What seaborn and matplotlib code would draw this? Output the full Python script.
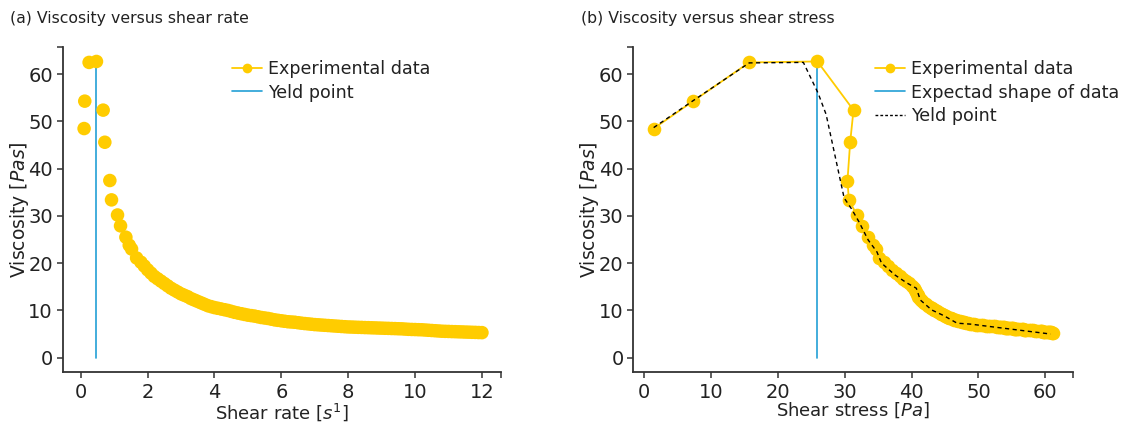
import matplotlib
matplotlib.use("Agg")
import matplotlib.pyplot as plt
from matplotlib.lines import Line2D
import seaborn as sns
import pandas as pd

# ---------------- data ----------------
# shear rate [1/s] of each measurement
shear_rate = [0.10, 0.12, 0.25, 0.47, 0.67, 0.72, 0.87, 0.92, 1.10, 1.19, 1.35, 1.45, 1.52, 1.67,
              1.8, 1.9, 2.0, 2.1, 2.2, 2.3, 2.4, 2.5, 2.6, 2.7,
              2.8, 2.9, 3.0, 3.1, 3.2, 3.3, 3.4, 3.5, 3.6, 3.7,
              3.8, 3.9, 4.0, 4.1, 4.2, 4.3, 4.4, 4.5, 4.6, 4.7,
              4.8, 4.9, 5.0, 5.1, 5.2, 5.3, 5.4, 5.5, 5.6, 5.7,
              5.8, 5.9, 6.0, 6.1, 6.2, 6.3, 6.4, 6.5, 6.6, 6.7,
              6.8, 6.9, 7.0, 7.1, 7.2, 7.3, 7.4, 7.5, 7.6, 7.7,
              7.8, 7.9, 8.0, 8.1, 8.2, 8.3, 8.4, 8.5, 8.6, 8.7,
              8.8, 8.9, 9.0, 9.1, 9.2, 9.3, 9.4, 9.5, 9.6, 9.7,
              9.8, 9.9, 10.0, 10.1, 10.2, 10.3, 10.4, 10.5, 10.6, 10.7,
              10.8, 10.9, 11.0, 11.1, 11.2, 11.3, 11.4, 11.5, 11.6, 11.7,
              11.8, 11.9, 12.0]
# viscosity [Pa s] of each measurement (shared by both panels)
viscosity = [48.5, 54.3, 62.5, 62.7, 52.4, 45.6, 37.5, 33.4, 30.2, 27.9, 25.5, 23.8, 23.0, 21.1,
             20.2, 19.4, 18.6, 17.9, 17.2, 16.7, 16.2, 15.7, 15.2, 14.7,
             14.3, 13.9, 13.5, 13.2, 12.9, 12.5, 12.2, 11.9, 11.6, 11.3,
             11.0, 10.8, 10.6, 10.45, 10.3, 10.15, 10.0, 9.8, 9.6, 9.45,
             9.3, 9.15, 9.0, 8.9, 8.8, 8.65, 8.5, 8.4, 8.3, 8.15,
             8.0, 7.9, 7.8, 7.7, 7.6, 7.55, 7.5, 7.4, 7.3, 7.22,
             7.15, 7.08, 7.0, 6.95, 6.9, 6.85, 6.8, 6.75, 6.7, 6.65,
             6.6, 6.55, 6.5, 6.48, 6.45, 6.42, 6.4, 6.37, 6.35, 6.32,
             6.3, 6.27, 6.25, 6.22, 6.2, 6.17, 6.15, 6.12, 6.1, 6.05,
             6.0, 5.97, 5.95, 5.92, 5.9, 5.85, 5.8, 5.75, 5.7, 5.65,
             5.6, 5.57, 5.55, 5.52, 5.5, 5.47, 5.45, 5.42, 5.4, 5.37,
             5.35, 5.32, 5.3]
# shear stress [Pa] of each measurement
shear_stress = [1.4, 7.3, 15.7, 25.9, 31.3, 30.8, 30.4, 30.6, 31.8, 32.5, 33.4, 34.2, 34.6, 35.1,
                35.8, 36.4, 37.0, 37.6, 38.3, 38.7, 39.2, 39.6, 40.1, 40.4,
                40.5, 40.7, 40.8, 40.9, 41.0, 41.2, 41.4, 41.6, 41.9, 42.2,
                42.5, 42.7, 42.9, 43.05, 43.2, 43.35, 43.5, 43.75, 44.0, 44.2,
                44.4, 44.6, 44.8, 44.95, 45.1, 45.35, 45.6, 45.75, 45.9, 46.15,
                46.4, 46.65, 46.9, 47.2, 47.5, 47.7, 47.9, 48.2, 48.5, 48.8,
                49.1, 49.4, 49.7, 50.0, 50.4, 50.7, 51.1, 51.4, 51.7, 52.1,
                52.4, 52.7, 53.1, 53.2, 53.4, 53.6, 53.8, 54.0, 54.1, 54.3,
                54.4, 54.6, 54.8, 55.0, 55.1, 55.3, 55.4, 55.6, 55.8, 56.1,
                56.5, 56.7, 56.8, 57.0, 57.1, 57.5, 57.8, 58.1, 58.5, 58.8,
                59.2, 59.4, 59.5, 59.7, 59.8, 60.0, 60.2, 60.4, 60.5, 60.7,
                60.9, 61.0, 61.2]

# expected shape of data (dashed curve in panel b)
expected_stress = [1.4, 7.3, 15.7, 23.8, 26.0, 27.2, 29.9, 31.0, 32.1, 33.5, 34.8, 35.5, 37.5,
                   39.3, 40.7, 41.3, 43.0, 44.8, 46.8, 48.8, 60.8]
expected_visc = [48.7, 54.4, 62.4, 62.5, 56.0, 51.5, 33.8, 31.5, 28.8, 24.9, 22.4, 20.0, 17.5,
                 15.8, 14.7, 12.2, 10.1, 8.9, 7.3, 7.1, 5.0]

# yield point markers (vertical lines)
yield_rate = [0.47, 0.47]
yield_stress = [25.9, 25.9]
yield_visc = [0.0, 62.0]

xticks_a = [0, 2, 4, 6, 8, 10, 12]
xticks_b = [0, 10, 20, 30, 40, 50, 60]
yticks = [0, 10, 20, 30, 40, 50, 60]

df = pd.DataFrame({"rate": shear_rate, "stress": shear_stress, "visc": viscosity})
df_exp = pd.DataFrame({"stress": expected_stress, "visc": expected_visc})
df_ya = pd.DataFrame({"x": yield_rate, "y": yield_visc})
df_yb = pd.DataFrame({"x": yield_stress, "y": yield_visc})

# ---------------- style ----------------
sns.set_style("ticks")
plt.rcParams["font.family"] = ["DejaVu Sans"]
plt.rcParams["mathtext.fontset"] = "dejavusans"

YELLOW = "#FFCC00"
BLUE = "#23A0D6"
AXC = "#333333"
TXT = "#222222"

W, H = 1135, 422
fig = plt.figure(figsize=(W / 100, H / 100), dpi=100)
ax_a = fig.add_axes([62.7 / W, 49.7 / H, 438.3 / W, 325.0 / H])
ax_b = fig.add_axes([633.3 / W, 49.7 / H, 439.4 / W, 325.0 / H])

# panel a
sns.scatterplot(data=df, x="rate", y="visc", ax=ax_a, color=YELLOW, s=95,
                edgecolor="none", legend=False, zorder=3)
sns.lineplot(data=df_ya, x="x", y="y", ax=ax_a, color=BLUE, lw=1.2, sort=False,
             estimator=None, legend=False, zorder=2)

# panel b
sns.lineplot(data=df, x="stress", y="visc", ax=ax_b, color=YELLOW, lw=1.3, sort=False,
             estimator=None, marker="o", markersize=9.8, markeredgewidth=0,
             legend=False, zorder=3)
sns.lineplot(data=df_yb, x="x", y="y", ax=ax_b, color=BLUE, lw=1.2, sort=False,
             estimator=None, legend=False, zorder=2)
sns.lineplot(data=df_exp, x="stress", y="visc", ax=ax_b, color="black", lw=1.0,
             sort=False, estimator=None, legend=False, zorder=4)
ax_b.lines[-1].set_linestyle((0, (3, 2.5)))

for ax, xt, xlim in [(ax_a, xticks_a, (-0.54, 12.57)), (ax_b, xticks_b, (-1.65, 64.1))]:
    ax.set_xlim(*xlim)
    ax.set_ylim(-3.1, 65.7)
    ax.set_xticks(xt)
    ax.set_yticks(yticks)
    ax.set_xticks([xlim[1]], minor=True)
    ax.set_yticks([65.7], minor=True)
    for s in ["top", "right"]:
        ax.spines[s].set_visible(False)
    for s in ["left", "bottom"]:
        ax.spines[s].set_color(AXC)
        ax.spines[s].set_linewidth(1.3)
    ax.tick_params(which="both", direction="out", length=4, width=1.1, color=AXC,
                   labelsize=14, labelcolor=TXT)
    ax.tick_params(axis="x", pad=4)
    ax.tick_params(axis="y", pad=3)
    ax.set_ylabel(r"Viscosity [$\mathit{Pas}$]", fontsize=13.5, color=TXT)
    ax.yaxis.set_label_coords(-0.073, 0.5)

ax_a.set_xlabel(r"Shear rate [$\mathit{s}^{1}$]", fontsize=13, color=TXT)
ax_a.xaxis.set_label_coords(0.5, -0.088)
ax_b.set_xlabel(r"Shear stress [$\mathit{Pa}$]", fontsize=13, color=TXT)
ax_b.xaxis.set_label_coords(0.5, -0.088)

fig.text(10 / W, 1 - 18 / H, "(a) Viscosity versus shear rate", fontsize=11.3,
         color=TXT, va="center", ha="left")
fig.text(581 / W, 1 - 18 / H, "(b) Viscosity versus shear stress", fontsize=11.3,
         color=TXT, va="center", ha="left")

h_exp = Line2D([], [], color=YELLOW, lw=1.3, marker="o", markersize=7, markeredgewidth=0)
h_blue = Line2D([], [], color=BLUE, lw=1.2)
h_dash = Line2D([], [], color="black", lw=1.0, linestyle=(0, (2, 1.5)))

leg_kw = dict(frameon=False, fontsize=12.6, handlelength=1.7, handletextpad=0.35,
              labelspacing=0.3, borderaxespad=0, borderpad=0, loc="upper left")
ax_a.legend([h_exp, h_blue], ["Experimental data", "Yeld point"],
            bbox_to_anchor=(0.386, 0.96), labelcolor=TXT, **leg_kw)
ax_b.legend([h_exp, h_blue, h_dash],
            ["Experimental data", "Expectad shape of data", "Yeld point"],
            bbox_to_anchor=(0.55, 0.96), labelcolor=TXT, **leg_kw)

fig.savefig("out.png", dpi=100)
